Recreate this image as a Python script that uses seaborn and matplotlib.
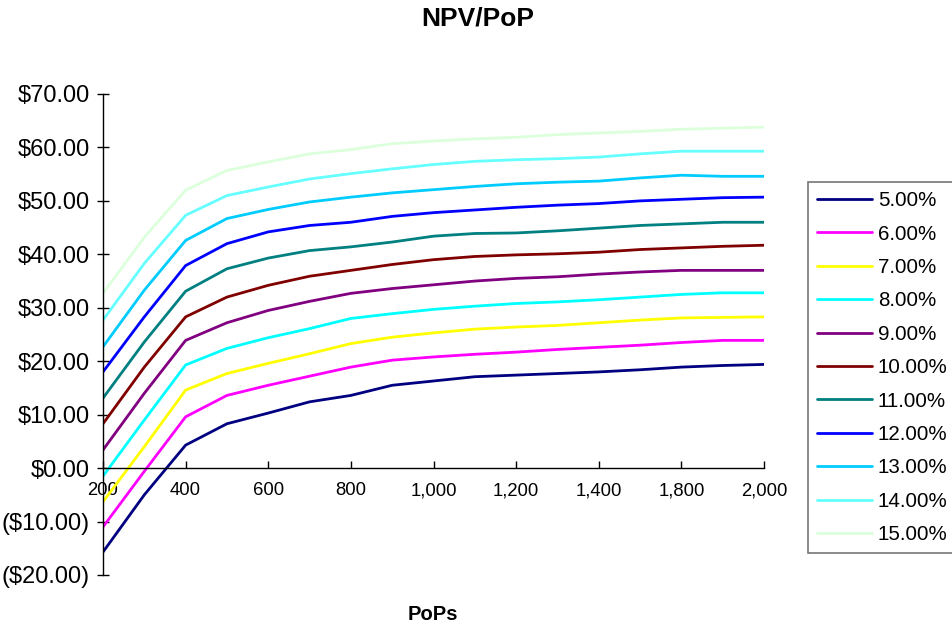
import matplotlib
matplotlib.use("Agg")
import matplotlib.pyplot as plt
import seaborn as sns
import pandas as pd
from matplotlib.ticker import FuncFormatter, FixedLocator

# ---- data ----
pops = [200, 300, 400, 500, 600, 700, 800, 900, 1000, 1100, 1200, 1300, 1400, 1600, 1800, 1900, 2000]
tick_labels = ["200", "400", "600", "800", "1,000", "1,200", "1,400", "1,800", "2,000"]
rates = ["5.00%", "6.00%", "7.00%", "8.00%", "9.00%", "10.00%",
         "11.00%", "12.00%", "13.00%", "14.00%", "15.00%"]

npv_5 = [-15.7, -5.0, 4.3, 8.3, 10.3, 12.4, 13.6, 15.5, 16.3, 17.1, 17.4, 17.7, 18.0, 18.4, 18.9, 19.2, 19.4]
npv_6 = [-11.0, -0.6, 9.6, 13.6, 15.5, 17.2, 18.9, 20.2, 20.8, 21.3, 21.7, 22.2, 22.6, 23.0, 23.5, 23.9, 23.9]
npv_7 = [-6.3, 4.0, 14.6, 17.7, 19.6, 21.4, 23.3, 24.5, 25.3, 26.0, 26.4, 26.7, 27.2, 27.7, 28.1, 28.2, 28.3]
npv_8 = [-1.5, 9.0, 19.3, 22.4, 24.4, 26.1, 28.0, 28.9, 29.7, 30.3, 30.8, 31.1, 31.5, 32.0, 32.5, 32.8, 32.8]
npv_9 = [3.4, 14.0, 23.9, 27.2, 29.5, 31.2, 32.7, 33.6, 34.3, 35.0, 35.5, 35.8, 36.3, 36.7, 37.0, 37.0, 37.0]
npv_10 = [8.3, 18.9, 28.3, 32.0, 34.2, 35.9, 37.0, 38.1, 39.0, 39.6, 39.9, 40.1, 40.4, 40.9, 41.2, 41.5, 41.7]
npv_11 = [13.1, 23.6, 33.1, 37.3, 39.3, 40.7, 41.4, 42.3, 43.4, 43.9, 44.0, 44.4, 44.9, 45.4, 45.7, 46.0, 46.0]
npv_12 = [18.0, 28.3, 37.9, 42.0, 44.2, 45.4, 46.0, 47.1, 47.8, 48.3, 48.8, 49.2, 49.5, 50.0, 50.3, 50.6, 50.7]
npv_13 = [22.7, 33.3, 42.6, 46.7, 48.4, 49.8, 50.7, 51.5, 52.1, 52.7, 53.2, 53.5, 53.7, 54.3, 54.8, 54.6, 54.6]
npv_14 = [27.7, 38.3, 47.3, 51.0, 52.6, 54.1, 55.1, 56.0, 56.8, 57.4, 57.7, 57.9, 58.2, 58.8, 59.3, 59.3, 59.3]
npv_15 = [32.7, 43.2, 52.0, 55.7, 57.3, 58.8, 59.6, 60.7, 61.2, 61.6, 61.9, 62.4, 62.7, 63.0, 63.4, 63.6, 63.8]

series = [npv_5, npv_6, npv_7, npv_8, npv_9, npv_10, npv_11, npv_12, npv_13, npv_14, npv_15]
colors = ["#000080", "#FF00FF", "#FFFF00", "#00FFFF", "#800080", "#800000",
          "#008080", "#0000FF", "#00CCFF", "#66FFFF", "#DCFFDC"]

rows = []
for rate, vals in zip(rates, series):
    for i, (p, v) in enumerate(zip(pops, vals)):
        rows.append({"idx": i, "PoPs": p, "NPV": v, "Rate": rate})
df = pd.DataFrame(rows)

# ---- plot ----
sns.set_theme(style="white")
plt.rcParams["font.family"] = ["Liberation Sans", "DejaVu Sans"]
plt.rcParams["text.color"] = "black"
plt.rcParams["xtick.color"] = "black"
plt.rcParams["ytick.color"] = "black"
plt.rcParams["axes.labelcolor"] = "black"

fig = plt.figure(figsize=(9.52, 6.27), dpi=100)
ax = fig.add_axes([103 / 952, 1 - 575 / 627, (764 - 103) / 952, (575 - 94) / 627])

sns.lineplot(data=df, x="idx", y="NPV", hue="Rate", hue_order=rates,
             palette=colors, linewidth=2.0, ax=ax, legend=True)

ax.set_xlim(0, len(pops) - 1)
ax.set_ylim(-20, 70)
ax.set_yticks(range(-20, 71, 10))
ax.yaxis.set_major_formatter(FuncFormatter(
    lambda v, _: f"${v:,.2f}" if v >= 0 else f"(${-v:,.2f})"))
ax.xaxis.set_major_locator(FixedLocator(list(range(0, len(pops), 2))))
ax.set_xticklabels(tick_labels)

for s in ["top", "right"]:
    ax.spines[s].set_visible(False)
ax.spines["bottom"].set_position(("data", 0))
for s in ["left", "bottom"]:
    ax.spines[s].set_color("black")
    ax.spines[s].set_linewidth(1.0)

ax.tick_params(axis="y", direction="inout", length=9, width=1, labelsize=17, pad=5,
               left=True, colors="black", labelcolor="black")
ax.tick_params(axis="x", direction="in", length=5, width=1, labelsize=13.3, pad=10,
               bottom=True, colors="black", labelcolor="black")
ax.set_xlabel("")
ax.set_ylabel("")
ax.grid(False)

fig.text(478 / 952, 1 - 19 / 627, "NPV/PoP", ha="center", va="center",
         fontsize=19, fontweight="bold", color="black")
fig.text(433 / 952, 1 - 614 / 627, "PoPs", ha="center", va="center",
         fontsize=14.5, fontweight="bold", color="black")

handles, labels = ax.get_legend_handles_labels()
ax.legend_.remove()
for h in handles:
    h.set_linewidth(2.0)
leg = fig.legend(handles, labels, loc="upper left",
                 bbox_to_anchor=(808 / 952, 1 - 182 / 627),
                 fontsize=14.8, frameon=True, fancybox=False,
                 handlelength=2.65, handletextpad=0.3, labelspacing=0.7,
                 borderpad=0.45, borderaxespad=0, labelcolor="black")
leg.get_frame().set_edgecolor("#555555")
leg.get_frame().set_linewidth(1.2)

fig.savefig("out.png", dpi=100)
